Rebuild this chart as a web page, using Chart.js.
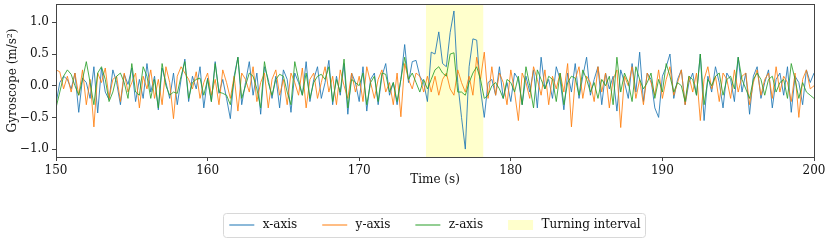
<!DOCTYPE html>
<html>
<head>
<meta charset="utf-8">
<script src="https://cdn.jsdelivr.net/npm/chart.js@4"></script>
<style>
html, body { margin: 0; padding: 0; background: #fff; }
</style>
</head>
<body>
<canvas id="graph" width="831" height="241"></canvas>
<script>
// 데이터 (0.25 s 간격, 150 s ~ 200 s)
var t0 = 150, dt = 0.25;

var gyroX = [
	-0.28, 0.05, 0.15, 0.1, -0.05, 0.2, -0.42, 0.12, 0.05, -0.2, 0.3, -0.43, 0.28, -0.1, -0.22, 0.25, 0.05, -0.3, 0.18, 0.02,
	0.28, -0.25, 0.1, -0.2, 0.35, -0.1, 0.15, -0.38, 0.28, 0.05, -0.2, 0.2, -0.3, 0.1, 0.42, -0.25, 0.15, -0.05, 0.3, -0.35,
	0.12, -0.25, 0.38, -0.12, 0.1, -0.2, -0.52, 0.15, 0.45, -0.3, 0.05, 0.38, -0.15, 0.2, -0.45, 0.3, 0.1, -0.2, 0.15, -0.35,
	0.25, 0.1, -0.42, 0.2, 0.05, -0.15, 0.38, -0.25, 0.1, 0.3, -0.2, 0.05, 0.4, -0.3, 0.15, -0.15, 0.35, -0.45, 0.2, 0.05,
	-0.25, 0.3, -0.4, 0.1, 0.2, -0.3, 0.15, 0.35, -0.15, 0.05, -0.3, 0.1, 0.65, 0.05, 0.38, 0.4, 0.15, 0.05, -0.25, 0.53,
	0.5, 0.85, 0.35, 0.3, 0.84, 1.18, 0.05, -0.5, -1.0, 0.3, 0.74, 0.72, -0.05, -0.5, 0.05, 0.1, -0.15, 0.3, -0.2, 0.05,
	-0.25, 0.2, 0.1, -0.3, 0.15, -0.1, 0.25, -0.35, 0.45, -0.05, 0.1, -0.2, 0.3, 0.1, -0.38, 0.2, -0.1, 0.35, -0.2, 0.15,
	0.45, -0.15, 0.1, 0.3, -0.3, 0.2, -0.05, 0.15, -0.4, 0.25, 0.05, -0.2, 0.35, -0.1, 0.53, -0.25, 0.2, 0.1, -0.35, -0.5,
	0.15, 0.3, 0.5, -0.2, 0.1, 0.25, -0.3, 0.05, 0.2, -0.15, 0.5, -0.55, 0.15, -0.1, 0.3, 0.05, -0.35, 0.2, 0.1, -0.25,
	0.45, -0.1, 0.2, -0.45, 0.15, 0.3, -0.2, 0.05, 0.25, -0.35, 0.1, 0.2, -0.15, 0.3, -0.42, 0.15, 0.05, -0.3, 0.25, 0.05, 0.2
];

var gyroY = [
	0.25, 0.22, -0.05, 0.15, -0.1, 0.2, -0.15, 0.25, -0.3, 0.1, -0.65, 0.2, 0.05, 0.28, -0.2, 0.1, 0.15, -0.25, 0.2, -0.1,
	0.05, 0.2, -0.35, 0.15, -0.05, 0.25, -0.2, 0.1, -0.3, 0.3, 0.05, -0.52, 0.15, 0.3, 0.2, 0.1, -0.05, 0.22, -0.2, 0.05,
	0.2, -0.15, 0.1, -0.3, 0.25, 0.05, -0.2, 0.15, -0.4, 0.2, 0.1, -0.1, 0.3, -0.25, 0.05, 0.2, -0.35, 0.1, 0.25, -0.15,
	0.1, -0.3, 0.2, 0.05, -0.15, 0.28, -0.35, 0.1, 0.2, -0.2, 0.05, 0.3, -0.1, 0.15, -0.3, 0.25, 0.0, -0.2, 0.2, -0.1,
	0.15, -0.25, 0.3, 0.05, -0.2, 0.1, 0.25, -0.1, 0.05, -0.3, 0.2, -0.49, 0.35, 0.1, -0.05, 0.2, 0.15, -0.1, 0.15, -0.1,
	0.15, -0.15, 0.1, 0.2, -0.05, -0.15, 0.25, 0.05, -0.1, 0.15, -0.15, 0.45, 0.1, 0.53, -0.2, 0.3, -0.15, 0.2, 0.05, -0.3,
	0.25, -0.1, -0.55, 0.2, 0.05, -0.2, 0.3, 0.1, -0.15, 0.25, -0.3, 0.15, -0.05, 0.2, -0.1, 0.35, -0.65, 0.1, 0.3, -0.2,
	0.15, 0.05, -0.25, 0.3, -0.1, 0.2, -0.35, 0.1, 0.25, -0.66, 0.15, 0.0, 0.3, -0.2, 0.1, -0.3, 0.2, 0.05, -0.15, 0.25,
	-0.2, 0.1, 0.3, -0.15, 0.05, 0.25, -0.3, 0.15, -0.1, 0.2, -0.55, 0.1, 0.3, -0.05, 0.15, -0.25, 0.2, 0.1, -0.2, 0.25,
	-0.1, 0.15, 0.2, -0.3, 0.05, 0.25, -0.15, 0.1, 0.2, -0.2, 0.3, -0.1, 0.15, 0.05, -0.25, 0.2, -0.5, 0.1, 0.25, -0.05, 0.0
];

var gyroZ = [
	-0.35, -0.1, 0.15, 0.25, 0.18, 0.0, -0.15, 0.1, 0.38, 0.05, -0.3, 0.2, 0.3, 0.1, -0.25, -0.1, 0.15, 0.2, 0.05, -0.2,
	0.35, -0.1, -0.15, 0.3, 0.15, -0.2, 0.1, -0.35, 0.35, 0.0, -0.15, -0.1, -0.12, 0.15, 0.38, -0.2, 0.05, 0.1, 0.12, -0.15,
	0.1, -0.25, 0.35, -0.1, -0.12, -0.15, -0.3, 0.1, 0.45, -0.2, 0.0, 0.2, 0.15, -0.05, -0.35, 0.38, 0.05, -0.15, 0.1, 0.18,
	0.15, -0.1, -0.3, 0.38, 0.1, -0.15, 0.2, -0.2, 0.05, 0.15, 0.18, 0.1, 0.3, -0.25, 0.1, -0.1, 0.42, -0.35, 0.1, 0.05,
	0.0, 0.2, -0.3, 0.05, 0.15, -0.25, 0.2, 0.18, -0.1, 0.05, -0.25, 0.1, 0.45, 0.1, 0.2, 0.05, -0.1, 0.1, -0.05, 0.1,
	0.25, 0.3, 0.2, 0.15, 0.5, 0.52, -0.1, -0.1, -0.15, 0.05, 0.2, 0.3, 0.1, -0.2, -0.15, 0.0, 0.05, -0.05, -0.2, 0.1,
	0.05, -0.1, 0.15, -0.3, 0.3, 0.0, -0.35, 0.25, 0.1, -0.05, 0.15, 0.1, -0.25, 0.2, -0.3, 0.05, 0.15, 0.12, -0.15, 0.25,
	0.1, -0.1, 0.05, -0.2, 0.1, 0.0, 0.15, -0.3, 0.45, -0.1, 0.2, 0.05, -0.25, 0.3, 0.1, -0.05, 0.05, 0.2, -0.2, 0.1,
	-0.1, 0.35, 0.15, -0.1, 0.05, 0.0, -0.25, 0.15, 0.1, -0.15, 0.5, -0.3, 0.1, 0.0, 0.15, 0.2, -0.15, 0.1, 0.15, -0.05,
	0.45, 0.1, -0.05, -0.2, 0.1, 0.2, 0.1, -0.15, 0.1, 0.15, -0.1, 0.05, 0.1, -0.2, 0.35, 0.1, -0.2, 0.05, -0.1, -0.15, -0.2
];

var turnStart = 174.4, turnEnd = 178.2;
var xTicks = [150, 160, 170, 180, 190, 200];
var yTicks = [-1.0, -0.5, 0.0, 0.5, 1.0];
var seriesLabels = ['x-axis', 'y-axis', 'z-axis', 'Turning interval'];

var yMin = -1.125, yMax = 1.29;
var serif = "'DejaVu Serif', serif";

function toPoints(arr) {
	return arr.map(function(v, i) { return { x: t0 + i * dt, y: v }; });
}

// 축 테두리 + 범례 상자
var framePlugin = {
	id: 'frame',
	beforeDraw: function(chart) {
		var lg = chart.legend;
		if (!lg || !lg.legendHitBoxes.length) return;
		var boxes = lg.legendHitBoxes;
		var first = boxes[0], last = boxes[boxes.length - 1];
		var l = first.left - 6, r = last.left + last.width + 5;
		var t = first.top - 6, b = first.top + first.height + 6;
		var ctx = chart.ctx;
		ctx.save();
		ctx.fillStyle = '#fff';
		ctx.strokeStyle = '#d8d8d8';
		ctx.lineWidth = 1;
		ctx.beginPath();
		ctx.roundRect(Math.round(l) + 0.5, Math.round(t) + 0.5, Math.round(r - l), Math.round(b - t), 3);
		ctx.fill();
		ctx.stroke();
		ctx.restore();
	},
	afterDraw: function(chart) {
		var a = chart.chartArea, ctx = chart.ctx;
		ctx.save();
		ctx.strokeStyle = '#444';
		ctx.lineWidth = 1;
		ctx.strokeRect(Math.round(a.left) + 0.5, Math.round(a.top) + 0.5, Math.round(a.right - a.left), Math.round(a.bottom - a.top));
		ctx.restore();
	}
};

var ctx = document.getElementById('graph').getContext('2d');
var myChart = new Chart(ctx, {
	type: 'line',
	data: {
		datasets: [
			{ label: seriesLabels[0], data: toPoints(gyroX), borderColor: 'rgba(31,119,180,0.85)', borderWidth: 1, pointRadius: 0, order: 3, legendStyle: 'line' },
			{ label: seriesLabels[1], data: toPoints(gyroY), borderColor: 'rgba(255,127,14,0.85)', borderWidth: 1, pointRadius: 0, order: 2, legendStyle: 'line' },
			{ label: seriesLabels[2], data: toPoints(gyroZ), borderColor: 'rgba(44,160,44,0.85)', borderWidth: 1, pointRadius: 0, order: 1, legendStyle: 'line' },
			{ label: seriesLabels[3], data: [{ x: turnStart, y: yMax }, { x: turnEnd, y: yMax }],
				borderWidth: 0, borderColor: 'rgba(0,0,0,0)', backgroundColor: 'rgb(255,255,204)', fill: 'start',
				pointRadius: 0, order: 4, legendStyle: 'rect' }
		]
	},
	options: {
		animation: false,
		responsive: false,
		devicePixelRatio: 1,
		layout: { padding: { top: 4, right: 17, left: 0, bottom: 0 } },
		plugins: {
			tooltip: { enabled: false },
			legend: {
				position: 'bottom',
				fullSize: false,
				labels: {
					usePointStyle: true,
					pointStyleWidth: 25,
					boxHeight: 10,
					padding: 25,
					color: '#111',
					font: { family: serif, size: 12 },
					generateLabels: function(chart) {
						return chart.data.datasets.map(function(ds, i) {
							return {
								text: '\u2009' + ds.label,
								datasetIndex: i,
								pointStyle: ds.legendStyle,
								fillStyle: ds.legendStyle === 'rect' ? ds.backgroundColor : 'rgba(0,0,0,0)',
								strokeStyle: ds.borderColor,
								lineWidth: ds.legendStyle === 'rect' ? 0 : 1.2,
								hidden: false,
								fontColor: '#111'
							};
						});
					}
				}
			}
		},
		scales: {
			x: {
				type: 'linear',
				min: 150,
				max: 200,
				afterBuildTicks: function(axis) {
					axis.ticks = xTicks.map(function(v) { return { value: v }; });
				},
				afterFit: function(axis) { axis.height = 37; },
				grid: { drawOnChartArea: false, drawTicks: true, tickLength: 4, tickColor: '#444' },
				border: { display: false },
				ticks: {
					color: '#111',
					padding: 3,
					maxRotation: 0,
					font: { family: serif, size: 12 },
					callback: function(v) { return v; }
				},
				title: {
					display: true,
					text: 'Time (s)',
					color: '#111',
					font: { family: serif, size: 12 },
					padding: { top: 0, bottom: 7 }
				}
			},
			y: {
				min: yMin,
				max: yMax,
				afterBuildTicks: function(axis) {
					axis.ticks = yTicks.map(function(v) { return { value: v }; });
				},
				afterFit: function(axis) {
					axis.width = 56;
					axis.paddingTop = 0;
					axis.paddingBottom = 0;
				},
				grid: { drawOnChartArea: false, drawTicks: true, tickLength: 4, tickColor: '#444' },
				border: { display: false },
				ticks: {
					color: '#111',
					padding: 3,
					font: { family: serif, size: 12 },
					callback: function(v) { return v.toFixed(1).replace('-', '\u2212'); }
				},
				title: {
					display: true,
					text: 'Gyroscope (m/s\u00b2)',
					color: '#111',
					font: { family: serif, size: 12 },
					padding: { top: 6, bottom: 2 }
				}
			}
		}
	},
	plugins: [framePlugin]
});
</script>
</body>
</html>
